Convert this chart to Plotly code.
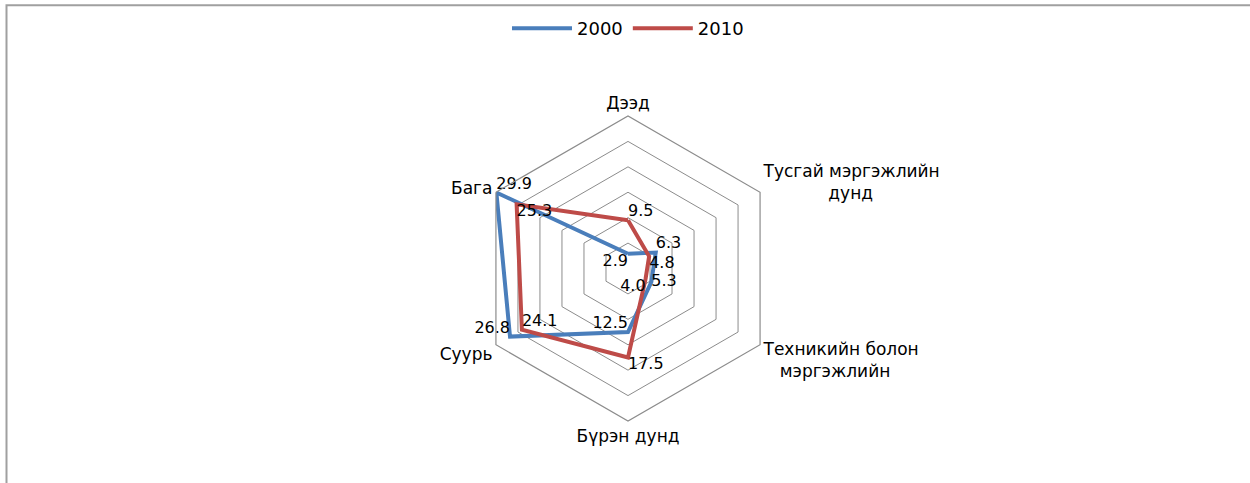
import plotly.graph_objects as go

NB = "\u00a0"
categories = ["Дээд", "Тусгай мэргэжлийн<br>" + NB * 12 + "дунд",
              "Техникийн болон<br>" + NB * 3 + "мэргэжлийн",
              "Бүрэн дунд", "Суурь", "Бага"]
series_names = ["2000", "2010"]
values_2000 = [2.9, 6.3, 5.3, 12.5, 26.8, 29.9]
values_2010 = [9.5, 4.8, 4.0, 17.5, 24.1, 25.3]

colors = ["#4A7EBB", "#BE4B48"]
label_pos_2000 = ["bottom left", "top right", "middle right", "top left", "top left", "top right"]
label_pos_2010 = ["top right", "bottom right", "bottom left", "bottom right", "top right", "bottom right"]

W, H = 1250, 483
ml, mr, mt, mb = 328, 322, 115, 62
pw, ph = W - ml - mr, H - mt - mb


def px_to_paper_x(px):
    return (px - ml) / pw


def px_to_paper_y(py):
    return (H - mb - py) / ph


fig = go.Figure()
for name, vals, col, pos in [(series_names[0], values_2000, colors[0], label_pos_2000),
                             (series_names[1], values_2010, colors[1], label_pos_2010)]:
    fig.add_trace(go.Scatterpolar(
        r=vals + vals[:1],
        theta=categories + categories[:1],
        mode="lines+text",
        name=name,
        line=dict(color=col, width=4),
        text=[f"{v:.1f}" for v in vals] + [""],
        textposition=pos + ["middle center"],
        textfont=dict(family="DejaVu Sans", size=16, color="black"),
        cliponaxis=False,
    ))

fig.update_layout(
    width=W, height=H,
    margin=dict(l=ml, r=mr, t=mt, b=mb),
    paper_bgcolor="white",
    font=dict(family="DejaVu Sans", size=17, color="black"),
    polar=dict(
        bgcolor="white",
        gridshape="linear",
        radialaxis=dict(range=[0, 30], dtick=5, showticklabels=False, ticks="",
                        showline=False, gridcolor="#8C8C8C", gridwidth=1.2),
        angularaxis=dict(rotation=90, direction="clockwise", showgrid=False,
                         showline=True, linecolor="#8C8C8C", linewidth=1.2, ticks="",
                         tickfont=dict(family="DejaVu Sans", size=17, color="black")),
    ),
    legend=dict(orientation="h", x=0.5, xanchor="center",
                y=px_to_paper_y(10), yanchor="top",
                bgcolor="rgba(0,0,0,0)",
                font=dict(family="DejaVu Sans", size=18, color="black"),
                itemwidth=60),
    shapes=[dict(type="rect", xref="paper", yref="paper",
                 x0=px_to_paper_x(6.5), y0=px_to_paper_y(4),
                 x1=px_to_paper_x(W + 20), y1=px_to_paper_y(H + 20),
                 line=dict(color="#A0A0A0", width=2))],
)

fig.write_html("out.html", config={"displayModeBar": False},
               post_script="document.body.style.margin='0';")
